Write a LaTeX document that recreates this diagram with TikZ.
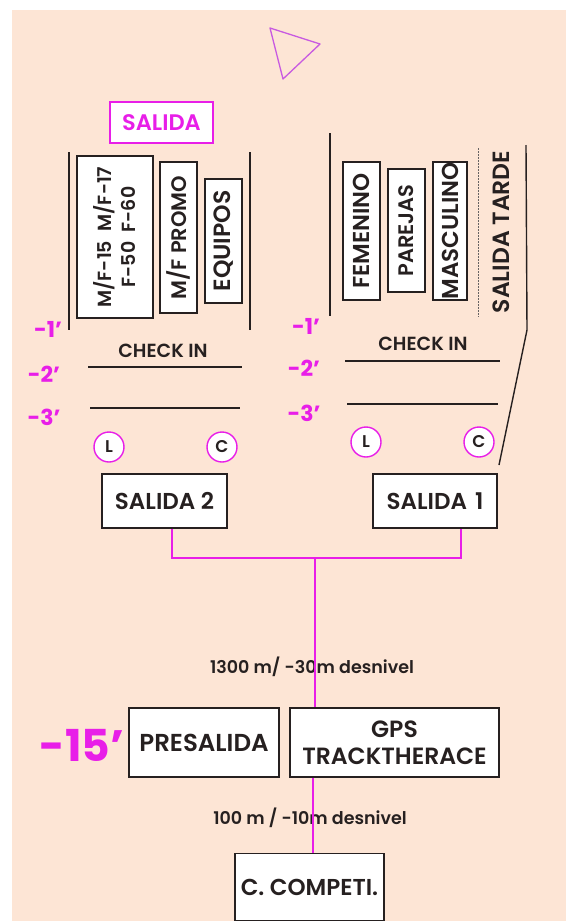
\documentclass[tikz,border=0pt]{standalone}
\usepackage{fontspec}
\setmainfont{Poppins SemiBold}[BoldFont={Poppins Bold}]
\definecolor{peach}{RGB}{253,229,213}
\definecolor{mag}{RGB}{232,30,232}
\definecolor{ink}{RGB}{38,32,32}
\definecolor{tri}{RGB}{200,90,225}
\newcommand{\fs}[1]{\fontsize{#1}{#1}\selectfont}
\begin{document}
\begin{tikzpicture}[x=1pt,y=-1pt,
  box/.style={draw=ink,fill=white,line width=1.1pt,inner sep=0pt,text=ink,align=center},
  thickbox/.style={box,line width=2pt},
  vbox/.style={box,rotate=90},
  grpline/.style={draw=ink,line width=1.4pt},
  minlab/.style={text=mag,font=\bfseries\fs{22},inner sep=0pt},
  circ/.style={circle,draw=mag,fill=white,line width=1.4pt,minimum size=30pt,inner sep=0pt,text=ink,font=\fs{17}},
  flow/.style={draw=mag,line width=2.6pt},
  distlab/.style={text=ink,font=\fs{17.5},inner sep=0pt}]
\useasboundingbox (0,0) rectangle (575,921);
\fill[white] (0,0) rectangle (575,921);
\fill[peach] (12,10) rectangle (566,921);

% triangle
\draw[tri,line width=1.3pt,line join=round] (270,28) -- (320,44) -- (283,79) -- cycle;

% SALIDA label
\node[draw=mag,fill=white,line width=2.4pt,text=mag,font=\fs{22.5},minimum width=103pt,minimum height=41pt,inner sep=0pt] (salida) at (161.5,122.5) {SALIDA};

% left group
\draw[grpline] (69,152) -- (69,330);
\draw[grpline] (250,152) -- (250,330);
\node[thickbox,rotate=90,font=\fs{19},minimum width=162pt,minimum height=76pt] (b1) at (115,237) {M/F-15\hspace{0.5em}M/F-17\\[5pt]F-50\hspace{0.5em}F-60};
\node[vbox,font=\fs{21},minimum width=151pt,minimum height=37pt] (b2) at (178.5,237.5) {M/F PROMO};
\node[vbox,font=\fs{23.5},minimum width=124pt,minimum height=37pt] (b3) at (223.5,241) {EQUIPOS};

% right group
\draw[grpline] (330,133) -- (330,316);
\node[vbox,font=\fs{23},minimum width=138pt,minimum height=37pt] (r1) at (361.5,231) {FEMENINO};
\node[vbox,font=\fs{21},minimum width=123pt,minimum height=37pt] (r2) at (406.5,230.5) {PAREJAS};
\node[thickbox,rotate=90,font=\fs{23},minimum width=138pt,minimum height=34pt] (r3) at (450,231) {MASCULINO};
\draw[ink!70,line width=1pt,dash pattern=on 1.5pt off 1.5pt] (478,148) -- (478,317);
\node[rotate=90,text=ink,font=\fs{23.5},inner sep=0pt] (tarde) at (501,232) {SALIDA TARDE};
\draw[grpline] (526,145) -- (527,330) -- (499,465);

% check in left
\node[text=ink,font=\fs{19},inner sep=0pt] (ck2) at (163,351) {CHECK IN};
\draw[grpline] (88,367) -- (242,367);
\draw[grpline] (90,408) -- (240,408);
\node[minlab] (l1) at (48,329) {-1'};
\node[minlab] (l2) at (44,374) {-2'};
\node[minlab] (l3) at (44,417) {-3'};
\node[circ] (cl2) at (109,447) {L};
\node[circ] (cc2) at (222,447) {C};

% check in right
\node[text=ink,font=\fs{19},inner sep=0pt] (ck1) at (423,344) {CHECK IN};
\draw[grpline] (345,361) -- (500,361);
\draw[grpline] (347,404) -- (498,404);
\node[minlab] (m1) at (306,326) {-1'};
\node[minlab] (m2) at (304,368) {-2'};
\node[minlab] (m3) at (304,413) {-3'};
\node[circ] (cl1) at (366,442) {L};
\node[circ] (cc1) at (479,442) {C};

% salida boxes
\node[box,font=\fs{23},minimum width=125pt,minimum height=54pt] (s2) at (164.5,501) {SALIDA 2};
\node[box,font=\fs{23},minimum width=124pt,minimum height=54pt] (s1) at (435,501) {SALIDA\hspace{0.35em}1};

% lower boxes
\node[minlab,font=\bfseries\fs{44}] (m15) at (82,745) {-15'};
\node[box,font=\fs{24.5},minimum width=150pt,minimum height=69pt] (pre) at (204,742.5) {PRESALIDA};
\node[box,font=\fs{23.5},minimum width=209pt,minimum height=69pt] (gps) at (394.5,742.5) {GPS\\[3pt]TRACKTHERACE};
\node[box,font=\fs{23},minimum width=149pt,minimum height=67pt] (comp) at (309.5,887) {C. COMPETI.};

% distance labels
\node[distlab] (d1) at (312,667) {1300 m/ -30m desnivel};
\node[distlab] (d2) at (310,818) {100 m / -10m desnivel};

% connectors
\coordinate (j2) at (172,558);
\coordinate (j1) at (461,558);
\coordinate (jt) at (315,558);
\coordinate (jb) at (313,800);
\draw[flow] (s2.south -| j2) -- (j2) -- (j1) -- (s1.south -| j1);
\draw[flow] (jt) -- (gps.north -| jt);
\draw[flow] (gps.south -| jb) -- (comp.north -| jb);
\end{tikzpicture}
\end{document}
